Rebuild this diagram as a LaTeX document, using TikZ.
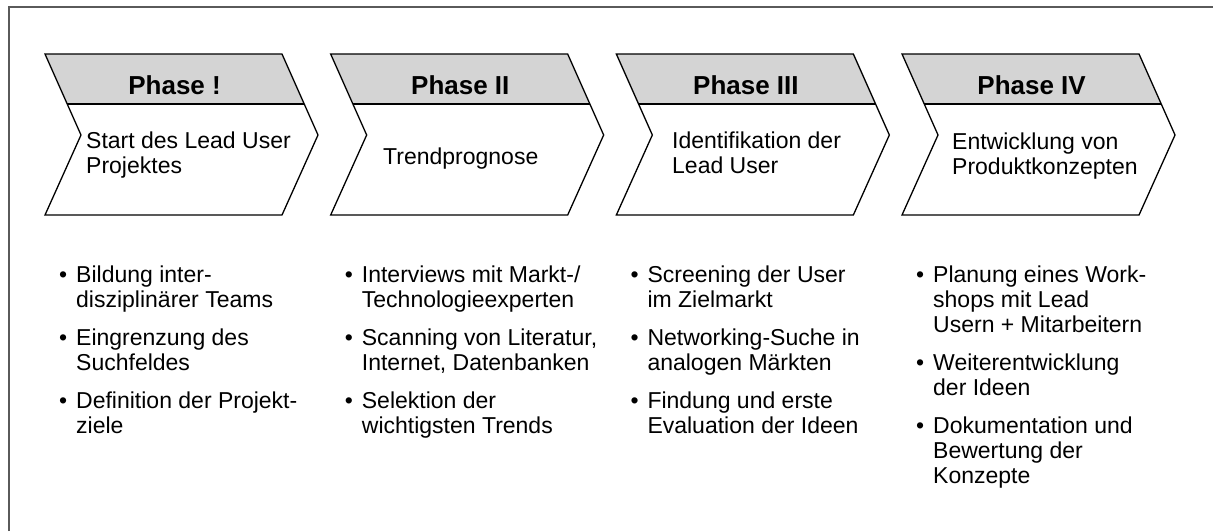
\documentclass[tikz,border=0pt]{standalone}
\usepackage{fontspec}
\setmainfont{Liberation Sans}
\definecolor{framegray}{RGB}{90,90,90}
\definecolor{stipple}{RGB}{212,212,212}
\newcommand{\bul}{\makebox[17pt][l]{\textbullet}}
\begin{document}
\begin{tikzpicture}[x=1pt,y=-1pt,
  framestyle/.style={draw=framegray, line width=2pt},
  chev/.style={draw=black, line width=1.3pt, line join=miter},
  hdr/.style={font=\fontsize{26}{28}\selectfont\bfseries, anchor=base, inner sep=0},
  body/.style={font=\fontsize{23}{25}\selectfont, anchor=base west, align=left, inner sep=0},
  blist/.style={font=\fontsize{23}{25}\selectfont, anchor=base west, inner sep=0}]
\useasboundingbox (0,0) rectangle (1213,531);
\draw[framestyle] (8.5,531) -- (8.5,6.5) -- (1213,6.5);
\foreach \i in {0,1,2,3}{
  \pgfmathsetmacro{\xo}{45+285.67*\i}
  \fill[stipple] (\xo,54) -- (\xo+237,54) -- (\xo+259.2,104) -- (\xo+22.2,104) -- cycle;
  \draw[chev] (\xo,54) -- (\xo+237,54) -- (\xo+273,135) -- (\xo+237,215) -- (\xo,215) -- (\xo+36,135) -- cycle;
  \draw[chev] (\xo+22.2,104) -- (\xo+259.2,104);
}
\node[hdr] (h1) at (174.6,94) {Phase !};
\node[hdr] (h2) at (460.3,94) {Phase II};
\node[hdr] (h3) at (745.9,94) {Phase III};
\node[hdr] (h4) at (1031.6,94) {Phase IV};
\node[body] (b1) at (86,173) {Start des Lead User\\Projektes};
\node[body] (b2) at (383,164) {Trendprognose};
\node[body] (b3) at (672,173) {Identifikation der\\Lead User};
\node[body] (b4) at (952,174) {Entwicklung von\\Produktkonzepten};
\node[blist] (l1) at (59,282) {\begin{tabular}[t]{@{}l@{}l@{}}
\bul & Bildung inter-\\ & disziplinärer Teams\\[13pt]
\bul & Eingrenzung des\\ & Suchfeldes\\[13pt]
\bul & Definition der Projekt-\\ & ziele
\end{tabular}};
\node[blist] (l2) at (344.7,282) {\begin{tabular}[t]{@{}l@{}l@{}}
\bul & Interviews mit Markt-/\\ & Technologieexperten\\[13pt]
\bul & Scanning von Literatur,\\ & Internet, Datenbanken\\[13pt]
\bul & Selektion der\\ & wichtigsten Trends
\end{tabular}};
\node[blist] (l3) at (630.3,282) {\begin{tabular}[t]{@{}l@{}l@{}}
\bul & Screening der User\\ & im Zielmarkt\\[13pt]
\bul & Networking-Suche in\\ & analogen Märkten\\[13pt]
\bul & Findung und erste\\ & Evaluation der Ideen
\end{tabular}};
\node[blist] (l4) at (916,282) {\begin{tabular}[t]{@{}l@{}l@{}}
\bul & Planung eines Work-\\ & shops mit Lead\\ & Usern + Mitarbeitern\\[13pt]
\bul & Weiterentwicklung\\ & der Ideen\\[13pt]
\bul & Dokumentation und\\ & Bewertung der\\ & Konzepte
\end{tabular}};
\end{tikzpicture}
\end{document}
